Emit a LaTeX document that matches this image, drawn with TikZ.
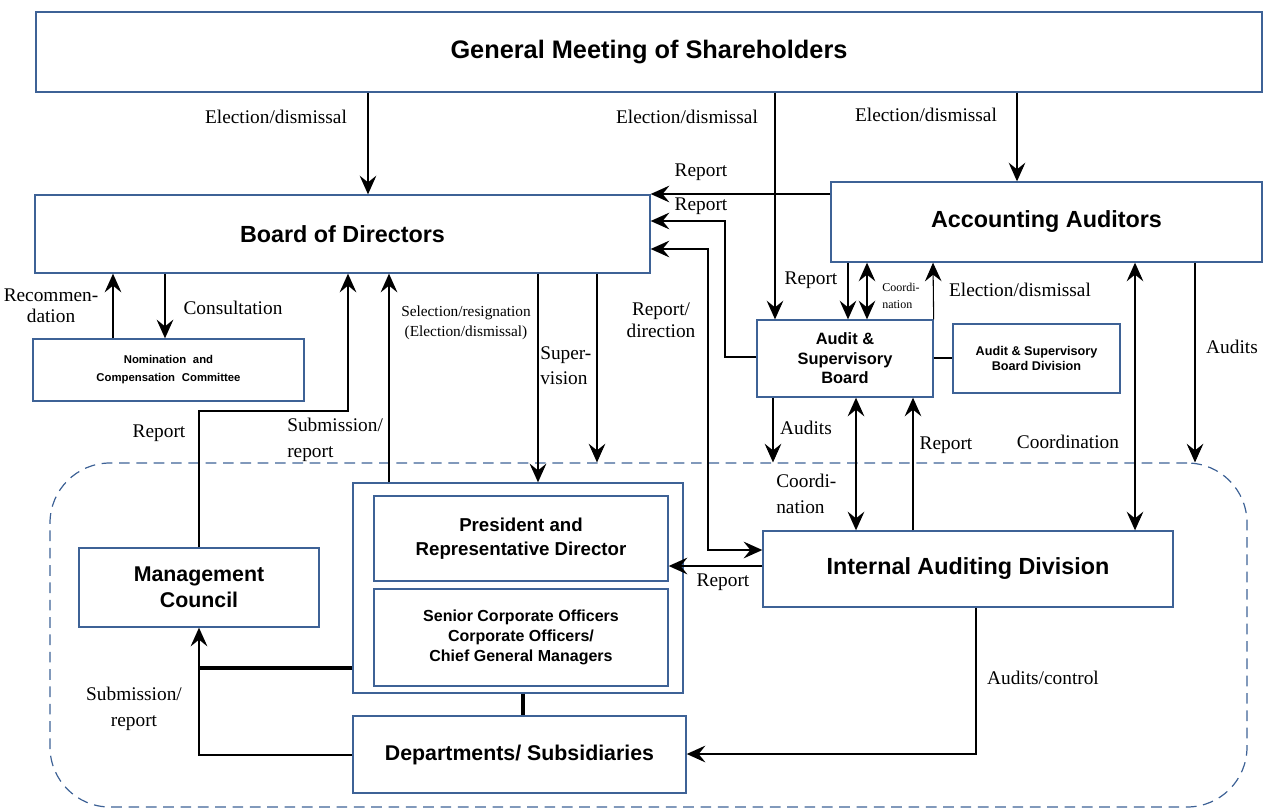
\documentclass[tikz,border=0pt]{standalone}
\usepackage{fontspec}
\setmainfont{Liberation Serif}
\newfontfamily\sansb{Liberation Sans}
\usetikzlibrary{arrows.meta,fit}
\definecolor{boxblue}{RGB}{62,98,150}
\begin{document}
\begin{tikzpicture}[x=0.75pt,y=-0.75pt,
  box/.style={draw=boxblue,line width=1pt,inner sep=0pt},
  btxt/.style={inner sep=0pt,align=center,font=\sansb\bfseries\fontsize{#1}{22}\selectfont},
  lbl/.style={font=\fontsize{14.5}{#1}\selectfont,inner sep=0pt,align=center},
  lbl/.default=17,
  arr/.style={-{Stealth[length=14pt,width=12.5pt,inset=5pt]}},
  both/.style={{Stealth[length=14pt,width=12.5pt,inset=5pt]}-{Stealth[length=14pt,width=12.5pt,inset=5pt]}},
  thinln/.style={line width=0.8pt},
  thickln/.style={line width=1.5pt},
  heavyln/.style={line width=2.4pt},
  zonest/.style={draw=boxblue,line width=0.9pt,dash pattern=on 8pt off 5pt,rounded corners=45pt,inner sep=0pt}
]
\useasboundingbox (0,0) rectangle (1267,810);

% dashed execution zone
\node[zonest,fit={(50,463) (1247,807)}] (zone) {};

% boxes
\node[box,fit={(36,12) (1262,92)}] (gm) {};
\node[box,fit={(35,195) (650,273)}] (bod) {};
\node[box,fit={(831,182) (1262,262)}] (aa) {};
\node[box,fit={(33,339) (304,401)}] (ncc) {};
\node[box,fit={(757,320) (933,397)}] (asb) {};
\node[box,fit={(953,324) (1120,393)}] (asbd) {};
\node[box,fit={(353,483) (683,693)}] (pgrp) {};
\node[box,fit={(374,496) (668,581)}] (pres) {};
\node[box,fit={(374,589) (668,686)}] (sco) {};
\node[box,fit={(79,548) (319,627)}] (mc) {};
\node[box,fit={(353,716) (686,793)}] (dept) {};
\node[box,fit={(763,531) (1173,607)}] (iad) {};

% box texts
\node[btxt=19] (gmt) at (gm.center) {General Meeting of Shareholders};
\node[btxt=17.5] (bodt) at (bod.center) {Board of Directors};
\node[btxt=17.5] (aat) at (aa.center) {Accounting Auditors};
\node[inner sep=0pt,align=center,font=\sansb\bfseries\fontsize{8.5}{13.5}\selectfont] (ncct) at (ncc.center) {Nomination\hspace{0.6em}and\\Compensation\hspace{0.6em}Committee};
\node[inner sep=0pt,align=center,font=\sansb\bfseries\fontsize{12.3}{14.6}\selectfont] (asbt) at (asb.center) {Audit \&\\Supervisory\\Board};
\node[inner sep=0pt,align=center,font=\sansb\bfseries\fontsize{9.5}{11.25}\selectfont] (asbdt) at (asbd.center) {Audit \& Supervisory\\Board Division};
\node[inner sep=0pt,align=center,font=\sansb\bfseries\fontsize{14}{18}\selectfont] (prest) at (pres.center) {President and\\Representative Director};
\node[inner sep=0pt,align=center,font=\sansb\bfseries\fontsize{12}{15}\selectfont] (scot) at (sco.center) {Senior Corporate Officers\\Corporate Officers/\\Chief General Managers};
\node[inner sep=0pt,align=center,font=\sansb\bfseries\fontsize{16}{19.5}\selectfont] (mct) at (mc.center) {Management\\Council};
\node[btxt=16] (deptt) at (dept.center) {Departments/ Subsidiaries};
\node[btxt=17.5] (iadt) at (iad.center) {Internal Auditing Division};

% connectors from General Meeting
\draw[thinln,arr] (368,0 |- gm.south) -- (368,0 |- bod.north);
\draw[thinln,arr] (775,0 |- gm.south) -- (775,0 |- asb.north);
\draw[thinln,arr] (1017,0 |- gm.south) -- (1017,0 |- aa.north);

% reports into Board of Directors
\draw[thickln,arr] (aa.west |- 0,194) -- (bod.east |- 0,194);
\draw[thickln,arr] (asb.west |- 0,357) -- (725,357) -- (725,221) -- (bod.east |- 0,221);
\draw[thickln,both] (bod.east |- 0,249) -- (708,249) -- (708,550) -- (iad.west |- 0,550);

% Accounting auditors <-> audit board
\draw[thinln,arr] (848,0 |- aa.south) -- (848,0 |- asb.north);
\draw[thinln,both] (867,0 |- aa.south) -- (867,0 |- asb.north);
\draw[thinln,arr] (asb.north east) -- (933,0 |- aa.south);
\draw[thinln] (asb.east |- 0,358) -- (asbd.west |- 0,358);

% audit board downwards
\draw[thinln,arr] (773,0 |- asb.south) -- (773,0 |- zone.north);
\draw[thickln,both] (856,0 |- asb.south) -- (856,0 |- iad.north);
\draw[thinln,arr] (913,0 |- iad.north) -- (913,0 |- asb.south);
\draw[thinln,both] (1135,0 |- aa.south) -- (1135,0 |- iad.north);
\draw[thinln,arr] (1195,0 |- aa.south) -- (1195,0 |- zone.north);

% Board of directors downwards
\draw[thickln,arr] (538,0 |- bod.south) -- (538,0 |- pgrp.north);
\draw[thinln,arr] (597,0 |- bod.south) -- (597,0 |- zone.north);
\draw[thickln,arr] (389,0 |- pgrp.north) -- (389,0 |- bod.south);
\draw[thickln,arr] (mc.north) -- (199,411) -- (348,411) -- (348,0 |- bod.south);
\draw[thickln,arr] (113,0 |- ncc.north) -- (113,0 |- bod.south);
\draw[thickln,arr] (165,0 |- bod.south) -- (165,0 |- ncc.north);

% execution side
\draw[heavyln] (pgrp.west |- 0,668) -- (199,668);
\draw[thickln,arr] (dept.west |- 0,755) -- (199,755) -- (mc.south);
\draw[heavyln] (523,0 |- pgrp.south) -- (523,0 |- dept.north);
\draw[thickln,arr] (iad.west |- 0,566) -- (pres.east |- 0,566);
\draw[thickln,arr] (976,0 |- iad.south) -- (976,754) -- (dept.east |- 0,754);

% labels
\node[lbl] (l1) at (276,117) {Election/dismissal};
\node[lbl] (l2) at (687,117) {Election/dismissal};
\node[lbl] (l3) at (926,115) {Election/dismissal};
\node[lbl] (l4) at (701,172) {Report};
\node[lbl] (l5) at (701,206) {Report};
\node[lbl=16.5] (l6) at (661,320) {Report/\\direction};
\node[lbl] (l7) at (811,280) {Report};
\node[font=\fontsize{9}{13}\selectfont,inner sep=0pt,align=left,anchor=west] (l8) at (882,296) {Coordi-\\nation};
\node[lbl] (l9) at (1020,290) {Election/dismissal};
\node[lbl] (l10) at (806,428) {Audits};
\node[lbl] (l11) at (946,445) {Report};
\node[lbl] (l12) at (1068,442) {Coordination};
\node[lbl] (l13) at (1232,347) {Audits};
\node[lbl=19.5,align=left,anchor=west] (l14) at (776,494) {Coordi-\\nation};
\node[lbl] (l15) at (723,582) {Report};
\node[lbl] (l16) at (1043,678) {Audits/control};
\node[lbl=18.75,align=left,anchor=west] (l17) at (540,366) {Super-\\vision};
\node[font=\fontsize{11.5}{15}\selectfont,inner sep=0pt,align=center] (l18) at (466,323) {Selection/resignation\\(Election/dismissal)};
\node[lbl=16] (l19) at (51,306) {Recommen-\\dation};
\node[lbl] (l20) at (233,308) {Consultation};
\node[lbl] (l21) at (159,433) {Report};
\node[lbl=19,align=left,anchor=west] (l22) at (287,440) {Submission/\\report};
\node[lbl=19.5] (l23) at (134,709) {Submission/\\report};
\end{tikzpicture}
\end{document}
